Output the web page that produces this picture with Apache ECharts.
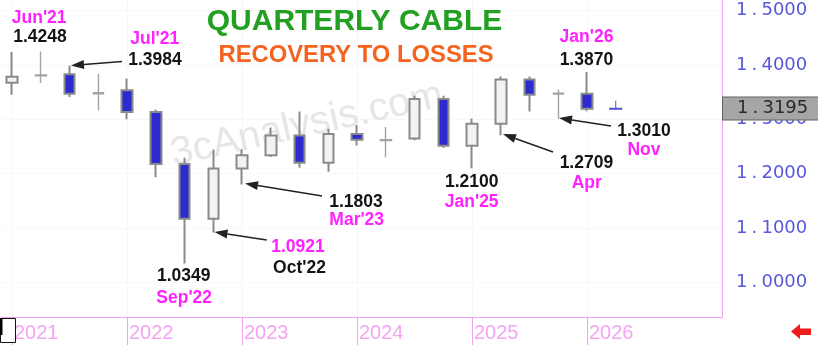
<!DOCTYPE html>
<html><head><meta charset="utf-8">
<script src="https://cdn.jsdelivr.net/npm/echarts@6/dist/echarts.min.js"></script>
<style>html,body{margin:0;padding:0;background:#fff}#c{width:818px;height:345px}</style>
</head><body><div id="c"></div>
<script>
// ---- data (GBP/USD quarterly candles) ----
const quarters = ['2021 Q1','2021 Q2','2021 Q3','2021 Q4','2022 Q1','2022 Q2','2022 Q3','2022 Q4',
  '2023 Q1','2023 Q2','2023 Q3','2023 Q4','2024 Q1','2024 Q2','2024 Q3','2024 Q4',
  '2025 Q1','2025 Q2','2025 Q3','2025 Q4','2026 Q1'];
const opens  = [1.3670,1.3800,1.3828,1.3470,1.3532,1.3136,1.2178,1.1170,1.2097,1.2338,1.2703,1.2203,1.2730,1.2610,1.2645,1.3375,1.2516,1.2918,1.3732,1.3465,1.3470];
const closes = [1.3783,1.3815,1.3470,1.3490,1.3136,1.2178,1.1170,1.2097,1.2338,1.2703,1.2203,1.2730,1.2623,1.2625,1.3375,1.2516,1.2918,1.3732,1.3450,1.3480,1.3195];
const lows   = [1.3450,1.3669,1.3412,1.3161,1.3000,1.1934,1.0349,1.0921,1.1803,1.2308,1.2110,1.2037,1.2518,1.2300,1.2615,1.2476,1.2100,1.2709,1.3142,1.3010,1.3150];
const highs  = [1.4237,1.4248,1.3984,1.3835,1.3749,1.3180,1.2293,1.2446,1.2448,1.2848,1.3142,1.2827,1.2894,1.2860,1.3434,1.3434,1.3015,1.3789,1.3789,1.3550,1.3870];
const ghostQuarters = ['2021 Q2','2021 Q4','2024 Q2','2025 Q4'];
const yearTicks = [2021,2022,2023,2024,2025,2026];
const priceTicks = [1.0,1.1,1.2,1.3,1.4,1.5];
const lastPrice = 1.3195;
const lastPriceQuarter = '2026 Q2';

function qx(label){ const p = label.split(' Q'); return +p[0] + (+p[1]-1)/4; }

const chart = echarts.init(document.getElementById('c'), null, {renderer:'canvas'});

const candleData = quarters.map((q,i)=>{
  const item = {value:[qx(q), opens[i], closes[i], lows[i], highs[i]]};
  if (ghostQuarters.indexOf(q) >= 0) {
    item.itemStyle = {color:'#fbfbfb', color0:'#fbfbfb', borderColor:'#a4a4a4', borderColor0:'#a4a4a4', borderWidth:1.4};
  }
  return item;
});

function priceRich(v){
  const s = v.toFixed(4); const parts = s.split('.');
  return '{a|' + parts[0] + '}{p|.}{a|' + parts[1] + '}';
}
const richAxis = {
  a:{fontFamily:'DejaVu Sans', fontSize:18, color:'#5757dd'},
  p:{fontFamily:'DejaVu Sans', fontSize:18, color:'#5757dd', width:14, align:'center'}
};
const richBox = {
  a:{fontFamily:'DejaVu Sans', fontSize:18, color:'#2a2a2a'},
  p:{fontFamily:'DejaVu Sans', fontSize:18, color:'#2a2a2a', width:14, align:'center'}
};

function arrow(x1,y1,x2,y2){
  const ang = Math.atan2(y2-y1, x2-x1);
  const L = 13, W = 4.5;
  const bx = x2 - L*Math.cos(ang), by = y2 - L*Math.sin(ang);
  const px = -Math.sin(ang)*W, py = Math.cos(ang)*W;
  return [
    {type:'line', z:20, shape:{x1:x1,y1:y1,x2:bx,y2:by}, style:{stroke:'#222', lineWidth:1.6}},
    {type:'polygon', z:20, shape:{points:[[x2,y2],[bx+px,by+py],[bx-px,by-py]]}, style:{fill:'#222'}}
  ];
}
function txt(s, x, y, color, size){
  return {type:'text', z:20, x:x, y:y, style:{text:s, fill:color, font:'bold '+(size||17.5)+'px "Liberation Sans", Arial, sans-serif', textAlign:'center', textVerticalAlign:'middle'}};
}
const MAG = '#ff22ff', BLK = '#141414';

const graphics = [
  {type:'text', z:1, x:307, y:125, rotation:0.218,
   style:{text:'3cAnalysis.com', fill:'#e6e6e6', font:'40px "Liberation Sans", Arial, sans-serif', textAlign:'center', textVerticalAlign:'middle'}},
  {type:'text', z:20, x:354.5, y:21.7, style:{text:'QUARTERLY CABLE', fill:'#22a022', font:'bold 30px "Liberation Sans", Arial, sans-serif', textAlign:'center', textVerticalAlign:'middle', textShadowColor:'rgba(0,60,0,0.6)', textShadowOffsetX:1, textShadowOffsetY:1}},
  {type:'text', z:20, x:356, y:55, style:{text:'RECOVERY TO LOSSES', fill:'#f5631f', font:'bold 23.8px "Liberation Sans", Arial, sans-serif', textAlign:'center', textVerticalAlign:'middle'}},
  txt("Jun'21", 39.2, 18.3, MAG), txt('1.4248', 40, 37.5, BLK),
  txt("Jul'21", 154.7, 39.3, MAG), txt('1.3984', 155, 60, BLK),
  txt('1.0349', 183.7, 276, BLK), txt("Sep'22", 184.2, 298, MAG),
  txt('1.0921', 298, 246.7, MAG), txt("Oct'22", 299.5, 268.3, BLK),
  txt('1.1803', 356, 201.7, BLK), txt("Mar'23", 356.7, 220, MAG),
  txt('1.2100', 471.7, 181.7, BLK), txt("Jan'25", 471.7, 201.7, MAG),
  txt('1.2709', 586.4, 162.7, BLK), txt('Apr', 586.7, 183.2, MAG),
  txt("Jan'26", 586.5, 37.2, MAG), txt('1.3870', 586.4, 60.3, BLK),
  txt('1.3010', 644, 130.8, BLK), txt('Nov', 644, 150, MAG),
  {type:'rect', z:20, shape:{x:0.5,y:318.5,width:15,height:24}, style:{fill:'#fff', stroke:'#111', lineWidth:1}},
  {type:'rect', z:21, shape:{x:0,y:318,width:2.5,height:17}, style:{fill:'#000'}},
  {type:'polygon', z:20, shape:{points:[[791,331.5],[800,324],[800,328.5],[811,328.5],[811,335],[800,335],[800,339]]}, style:{fill:'#ee1c1c'}}
].concat(arrow(122,61.5,71,65.5), arrow(266.7,240,214.5,232), arrow(322,196,245,183.5),
         arrow(553,152,503,134), arrow(611,126,559,118));

const PINK = '#f2a2f2';
const option = {
  animation:false,
  backgroundColor:'#ffffff',
  grid:{left:2, right:96, top:0, bottom:28, containLabel:false},
  xAxis:{
    type:'value', min:2021 - 10/115, max:2021 + 710/115,
    axisLine:{show:true, onZero:false, lineStyle:{color:PINK, width:1}},
    axisTick:{show:true, length:28, customValues:yearTicks, lineStyle:{color:PINK, width:1}},
    axisLabel:{customValues:yearTicks, formatter:v=>String(Math.round(v)), align:'left', margin:6,
      color:'#f4a4f4', fontFamily:'Liberation Sans', fontSize:20, padding:[0,0,0,2]},
    splitLine:{show:true, lineStyle:{color:'#f0f0f0', type:'dotted', width:1}}
  },
  yAxis:{
    type:'value', position:'right',
    min:1.5 - 306.5/544, max:1.5 + 10.5/544,
    axisLine:{show:true, lineStyle:{color:PINK, width:1}},
    axisTick:{show:false, customValues:priceTicks},
    axisLabel:{customValues:priceTicks, formatter:v=>priceRich(v), rich:richAxis, align:'left', margin:14},
    splitLine:{show:true, lineStyle:{color:'#f0f0f0', type:'dotted', width:1}}
  },
  series:[
    {
      type:'candlestick', name:'GBPUSD',
      encode:{x:0, y:[1,2,3,4]},
      data:candleData,
      barWidth:11,
      itemStyle:{color:'#f3f3f3', color0:'#2b2bcf', borderColor:'#8a8a8a', borderColor0:'#8a8a8a', borderWidth:2},
      markLine:{
        silent:true, symbol:['none','none'], animation:false,
        lineStyle:{color:'rgba(0,0,0,0)', width:1, type:'solid'},
        label:{show:true, position:'end', distance:1, formatter:()=>priceRich(lastPrice), rich:richBox,
          backgroundColor:'#a6a6a6', borderColor:'#606060', borderWidth:1, padding:[2,14,2,14]},
        data:[{yAxis:lastPrice}]
      },
      z:5
    },
    {
      type:'scatter', name:'last',
      data:[[qx(lastPriceQuarter), lastPrice]],
      symbol:'path://M0,7 L13,7 L13,9 L0,9 Z M6,0 L7,0 L7,7 L6,7 Z',
      symbolSize:[13,9], symbolOffset:[0,-3.5],
      itemStyle:{color:'#2424c4'}, z:6
    }
  ],
  graphic:graphics
};
chart.setOption(option);
</script>
</body></html>
